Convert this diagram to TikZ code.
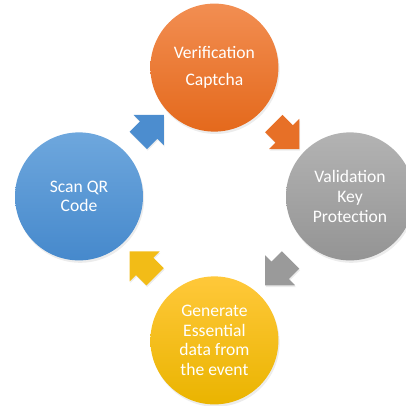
\documentclass[tikz,border=0pt]{standalone}
\usepackage{fontspec}
\setmainfont{Carlito}
\usetikzlibrary{shapes.arrows,calc,shadows}

\definecolor{orangeA}{HTML}{F28E52}
\definecolor{orangeB}{HTML}{E4691C}
\definecolor{grayA}{HTML}{B3B3B3}
\definecolor{grayB}{HTML}{949494}
\definecolor{blueA}{HTML}{6EA7DD}
\definecolor{blueB}{HTML}{4689CC}
\definecolor{yellowA}{HTML}{FFC83A}
\definecolor{yellowB}{HTML}{EAB400}

\tikzset{
  stage/.style={circle, minimum size=3.2cm, inner sep=0pt, text=white, align=center,
    font=\fontsize{12.5}{14}\selectfont,
    drop shadow={opacity=0.15, shadow xshift=0.03cm, shadow yshift=-0.06cm}},
  flow/.style={single arrow, single arrow tip angle=90, single arrow head extend=0.225cm,
    minimum height=0.9cm, inner xsep=0pt, inner ysep=0.3cm,
    drop shadow={opacity=0.15, shadow xshift=0.02cm, shadow yshift=-0.04cm}}
}

\begin{document}
\begin{tikzpicture}
  \useasboundingbox (0,0) rectangle (10.15,10.15);
  \node[stage, top color=orangeA, bottom color=orangeB] (verify) at (5.36,8.46)
    {Verification\\[5pt]Captcha};
  \node[stage, top color=grayA, bottom color=grayB] (valid) at (8.75,5.24)
    {Validation\\Key\\Protection};
  \node[stage, top color=yellowA, bottom color=yellowB] (gen) at (5.36,1.64)
    {Generate\\Essential\\data from\\the event};
  \node[stage, top color=blueA, bottom color=blueB] (scan) at (1.975,5.24)
    {Scan QR\\Code};

  \node[flow, fill=blueB!85!blueA, rotate=45] (a1) at ($(scan)!0.5!(verify)$) {};
  \node[flow, fill=orangeB!80!orangeA, rotate=-45] (a2) at ($(verify)!0.5!(valid)$) {};
  \node[flow, fill=grayB!80!grayA, rotate=-135] (a3) at ($(valid)!0.5!(gen)$) {};
  \node[flow, fill=yellowB!60!yellowA, rotate=135] (a4) at ($(gen)!0.5!(scan)$) {};
\end{tikzpicture}
\end{document}
